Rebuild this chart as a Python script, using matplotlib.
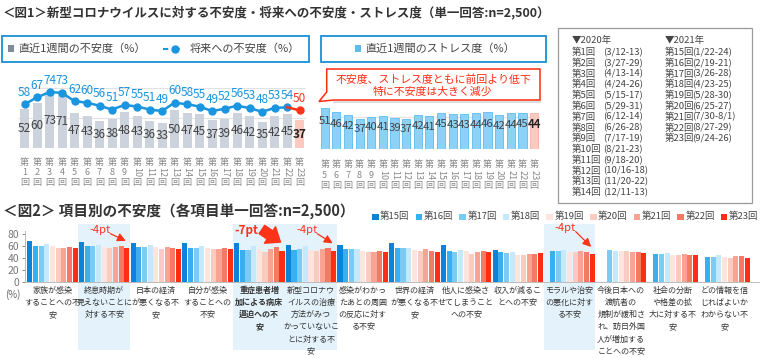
import numpy as np
import matplotlib.pyplot as plt
from matplotlib.patches import Rectangle, Polygon
from matplotlib.lines import Line2D
from matplotlib.transforms import blended_transform_factory

plt.rcParams['font.family'] = ['Noto Sans CJK JP', 'DejaVu Sans']

# ---- 図1 data ----
rounds = list(range(1, 24))
recent_anxiety = [52, 60, 73, 71, 47, 43, 36, 38, 48, 43, 36, 33, 50, 47, 45, 37, 39, 46, 42, 35, 42, 45, 37]
future_anxiety = [58, 67, 74, 73, 62, 60, 56, 51, 57, 55, 51, 49, 60, 58, 55, 49, 52, 56, 53, 48, 53, 54, 50]
stress_rounds = list(range(5, 24))
stress = [51, 46, 42, 37, 40, 41, 39, 37, 42, 41, 45, 43, 43, 44, 46, 42, 44, 45, 44]

periods_2020 = ['(3/12-13)', '(3/27-29)', '(4/13-14)', '(4/24-26)', '(5/15-17)', '(5/29-31)', '(6/12-14)',
                '(6/26-28)', '(7/17-19)', '(8/21-23)', '(9/18-20)', '(10/16-18)', '(11/20-22)', '(12/11-13)']
periods_2021 = ['(1/22-24)', '(2/19-21)', '(3/26-28)', '(4/23-25)', '(5/28-30)', '(6/25-27)', '(7/30-8/1)',
                '(8/27-29)', '(9/24-26)']

# ---- 図2 data ----
series = ['第15回', '第16回', '第17回', '第18回', '第19回', '第20回', '第21回', '第22回', '第23回']
items = ['家族が感染\nすることへの不\n安',
         '終息時期が\n見えないことに\n対する不安',
         '日本の経済\nが悪くなる不\n安',
         '自分が感染\nすることへの\n不安',
         '重症患者増\n加による病床\n逼迫への不\n安',
         '新型コロナウ\nイルスの治療\n方法がみつ\nかっていないこ\nとに対する不\n安',
         '感染がわかっ\nたあとの周囲\nの反応に対す\nる不安',
         '世界の経済\nが悪くなる不\n安',
         '他人に感染さ\nせてしまうこと\nへの不安',
         '収入が減るこ\nとへの不安',
         'モラルや治安\nの悪化に対す\nる不安',
         '今後日本への\n渡航者の\n規制が緩和さ\nれ、訪日外国\n人が増加する\nことへの不安',
         '社会の分断\nや格差の拡\n大に対する不\n安',
         'どの情報を信\nじればよいか\nわからない不\n安']
item_scores = [
    [69, 61, 61, 64, 61, 57, 57, 59, 57],
    [68, 60, 60, 63, 59, 57, 59, 61, 57],
    [66, 59, 59, 62, 59, 56, 59, 58, 56],
    [65, 58, 58, 60, 58, 55, 56, 58, 55],
    [65, 54, 54, 60, 56, 51, 56, 59, 52],
    [63, 54, 56, 60, 54, 53, 56, 57, 53],
    [62, 55, 55, 55, 53, 50, 51, 52, 50],
    [65, 58, 58, 58, 54, 52, 55, 52, 51],
    [62, 52, 51, 54, 52, 48, 51, 52, 50],
    [54, 51, 49, 50, 46, 46, 47, 47, 49],
    [None, 52, 52, 54, 50, 50, 52, 51, 47],
    [None, None, 54, 53, 52, 52, 51, 50, 49],
    [None, 47, 48, 49, 46, 45, 48, 46, 45],
    [None, 43, 43, 45, 43, 41, 44, 44, 41],
]
highlight = [1, 4, 5, 10]
drops = {1: '-4pt', 4: '-7pt', 5: '-4pt', 10: '-4pt'}

series_colors = ['#0b83d9', '#3aaff0', '#7ccbf4', '#c5e8fb', '#fde4dd', '#fccbbf', '#f9a492', '#f57a63', '#ff2d14']
blue = '#1a95e0'
red = '#ff3318'

W, H = 760, 358
fig = plt.figure(figsize=(W / 100, H / 100), dpi=100)


def fx(x):
    return x / W


def fy(y):
    return 1 - y / H


def ftext(x, y, s, **kw):
    fig.text(fx(x), fy(y), s, **kw)


def round_ticks(ax, nums, y0):
    tr = blended_transform_factory(ax.transData, fig.transFigure)
    for i, n in enumerate(nums):
        kw = dict(transform=tr, ha='center', va='center', fontsize=6.5, color='#888888')
        ax.text(i, fy(y0), '第', **kw)
        s = str(n)
        ax.text(i, fy(y0 + 10), s, rotation=-90 if len(s) > 1 else 0, **kw)
        ax.text(i, fy(y0 + 20.5), '回', **kw)


# titles
ftext(3, 13, '＜図1＞新型コロナウイルスに対する不安度・将来への不安度・ストレス度（単一回答:n=2,500）',
      fontsize=9, fontweight='bold', color='#333333', va='center')
ftext(3, 212, '＜図2＞ 項目別の不安度（各項目単一回答:n=2,500）',
      fontsize=10.5, fontweight='bold', color='#333333', va='center')

# ---- 図1 left ----
ax1 = fig.add_axes([fx(18.25), fy(148.3), 287.5 / W, (148.3 - 70) / H])
x1 = np.arange(len(rounds))
bar_cols = ['#ccd3dc'] * (len(rounds) - 1) + ['#fbc9c0']
ax1.bar(x1, recent_anxiety, width=0.72, color=bar_cols, zorder=2)
for i, v in enumerate(recent_anxiety):
    last = i == len(rounds) - 1
    ax1.text(i, v / 2, str(v), ha='center', va='center', fontsize=8.5,
             color='#222222' if last else '#444444', fontweight='bold' if last else 'normal', zorder=4)
ax1.plot(x1[:-1], future_anxiety[:-1], color=blue, lw=1.8, marker='o', ms=5, zorder=3)
ax1.plot(x1[-2:], future_anxiety[-2:], color=red, lw=1.8, zorder=3)
ax1.plot(x1[-1], future_anxiety[-1], color=red, marker='o', ms=5, zorder=3)
for i, v in enumerate(future_anxiety):
    ax1.annotate(str(v), (i, v), xytext=(0, 4), textcoords='offset points', ha='center', va='bottom',
                 fontsize=8.5, color=red if i == len(rounds) - 1 else blue)
ax1.set_xlim(-0.5, len(rounds) - 0.5)
ax1.set_ylim(0, 78.3 / 0.76)
ax1.set_yticks([0, 40, 80])
ax1.grid(axis='y', color='#e2e2e2', lw=0.8, zorder=0)
ax1.tick_params(left=False, bottom=False, labelleft=False, labelbottom=False)
for s in ax1.spines.values():
    s.set_visible(False)
ax1.set_facecolor('none')
round_ticks(ax1, rounds, 162)

# legend box 1
fig.patches.append(Rectangle((fx(2), fy(61.5)), 307 / W, 26 / H, transform=fig.transFigure,
                             facecolor='white', edgecolor='#1a8fd8', lw=1.3))
fig.patches.append(Rectangle((fx(8), fy(51.5)), 6 / W, 6 / H, transform=fig.transFigure,
                             facecolor='#7f8b9b', edgecolor='none'))
ftext(18, 48.5, '直近1週間の不安度（%）', fontsize=8, color='#444444', va='center')
fig.add_artist(Line2D([fx(163), fx(186)], [fy(48.5), fy(48.5)], color=blue, lw=1.5, ls=(0, (2.5, 3))))
fig.add_artist(Line2D([fx(174.5)], [fy(48.5)], color=blue, marker='o', ms=5))
ftext(190, 48.5, '将来への不安度（%）', fontsize=8, color='#444444', va='center')

# ---- 図1 right (stress) ----
ax2 = fig.add_axes([fx(318.9), fy(149.3), 221 / W, (149.3 - 100) / H])
x2 = np.arange(len(stress_rounds))
st_cols = ['#8dd2f6'] * (len(stress_rounds) - 1) + ['#fbc9c0']
st_edges = ['#5cbcef'] * (len(stress_rounds) - 1) + ['#f6b0a3']
ax2.bar(x2, stress, width=0.7, color=st_cols, edgecolor=st_edges, lw=0.6, zorder=2)
for i, v in enumerate(stress):
    last = i == len(stress_rounds) - 1
    ax2.text(i, v * 0.68, str(v), ha='center', va='center', fontsize=8.2,
             color='#222222' if last else '#444444', fontweight='bold' if last else 'normal', zorder=4)
ax2.set_xlim(-0.5, len(stress_rounds) - 0.5)
ax2.set_ylim(0, 49.3 / 0.815)
ax2.set_yticks([0, 40])
ax2.grid(axis='y', color='#e2e2e2', lw=0.8, zorder=0)
ax2.tick_params(left=False, bottom=False, labelleft=False, labelbottom=False)
for s in ax2.spines.values():
    s.set_visible(False)
ax2.set_facecolor('none')
round_ticks(ax2, stress_rounds, 165)

fig.patches.append(Rectangle((fx(320.5), fy(61.5)), 225 / W, 26 / H, transform=fig.transFigure,
                             facecolor='white', edgecolor='#1a8fd8', lw=1.3))
fig.patches.append(Rectangle((fx(355), fy(51.5)), 6 / W, 6 / H, transform=fig.transFigure,
                             facecolor='#5cbcef', edgecolor='none'))
ftext(365, 48.5, '直近1週間のストレス度（%）', fontsize=8, color='#444444', va='center')

# callout
pts = [(326.7, 69), (540, 69), (540, 100), (334, 100), (319, 101.5), (326.7, 92)]
fig.patches.append(Polygon([(fx(a), fy(b)) for a, b in pts], closed=True, transform=fig.transFigure,
                           facecolor='white', edgecolor='#ff2a10', lw=1.1, zorder=5))
fig.add_artist(Line2D([fx(334), fx(540)], [fy(101.5), fy(101.5)], color='#dddddd', lw=1.5, zorder=4))
ftext(433, 79.5, '不安度、ストレス度ともに前回より低下', fontsize=7.8, color='#ff2a10', ha='center', va='center', zorder=6)
ftext(433, 92, '特に不安度は大きく減少', fontsize=7.8, color='#ff2a10', ha='center', va='center', zorder=6)

# period table
fig.patches.append(Rectangle((fx(558), fy(203)), 194 / W, 175 / H, transform=fig.transFigure,
                             facecolor='white', edgecolor='#9a9a9a', lw=0.9))
tkw = dict(fontsize=6.8, color='#444444', va='center')
ftext(572, 40, '▼2020年', **tkw)
for k, p in enumerate(periods_2020):
    y = 52.5 + k * 10.77
    ftext(572, y, f'第{k + 1}回', **tkw)
    ftext(603, y, p, **tkw)
ftext(665, 40, '▼2021年', **tkw)
for k, p in enumerate(periods_2021):
    y = 52.5 + k * 10.77
    ftext(665, y, f'第{k + 15}回', **tkw)
    ftext(692, y, p, **tkw)

# ---- 図2 ----
ax3 = fig.add_axes([fx(25), fy(282.3), 735 / W, 51 / H])
w = 5.675 / 51.7
for j, name in enumerate(series):
    xs = [i + (j - 4) * w for i in range(len(items)) if item_scores[i][j] is not None]
    hs = [item_scores[i][j] for i in range(len(items)) if item_scores[i][j] is not None]
    ax3.bar(xs, hs, width=w * 0.9, color=series_colors[j], zorder=2)
ax3.set_xlim(-0.532, 13.685)
ax3.set_ylim(0, 85)
ax3.set_yticks([0, 20, 40, 60, 80])
ax3.tick_params(axis='y', labelsize=7.5, colors='#777777', length=2, width=0.6, pad=2)
ax3.tick_params(axis='x', bottom=False, labelbottom=False)
for s in ['top', 'right']:
    ax3.spines[s].set_visible(False)
for s in ['left', 'bottom']:
    ax3.spines[s].set_color('#bbbbbb')
    ax3.spines[s].set_linewidth(0.7)
ax3.set_facecolor('none')
ftext(13, 295, '(%)', fontsize=7, color='#666666', ha='center', va='center')

tr3 = blended_transform_factory(ax3.transData, fig.transFigure)
for i in highlight:
    fig.patches.append(Rectangle((i - 0.5, fy(350)), 1, (350 - 224) / H, transform=tr3,
                                 facecolor='#e3f2fb', edgecolor='none', zorder=-1))
for i, lab in enumerate(items):
    ax3.text(i, fy(286), lab, transform=tr3, ha='center', va='top', fontsize=5.8, linespacing=1.45,
             color='#333333', fontweight='bold' if i == 4 else 'normal')

for i, t in drops.items():
    v23 = item_scores[i][-1]
    bx = i + 4 * w
    if t == '-7pt':
        ax3.text(i - 0.25, 87, t, ha='center', va='center', fontsize=8.5, color=red, fontweight='bold')
        ax3.annotate('', xy=(bx - 0.03, v23 + 15), xytext=(i + 0.05, 88), annotation_clip=False,
                     arrowprops=dict(arrowstyle='simple,head_length=0.7,head_width=1.1,tail_width=0.55',
                                     color=red, mutation_scale=13, shrinkA=0, shrinkB=0))
    else:
        ty = 90.5 if i == 10 else 87
        ax3.text(i - 0.08, ty, t, ha='center', va='center', fontsize=8, color=red)
        ax3.annotate('', xy=(bx - 0.02, v23 + 12), xytext=(i + 0.12, ty - 6), annotation_clip=False,
                     arrowprops=dict(arrowstyle='-|>,head_length=0.5,head_width=0.25', color=red, lw=0.9,
                                     shrinkA=0, shrinkB=0))

# legend 図2
for j, name in enumerate(series):
    x = 375 + j * 43.6
    fig.patches.append(Rectangle((fx(x - 3), fy(220)), 6.5 / W, 6.5 / H, transform=fig.transFigure,
                                 facecolor=series_colors[j], edgecolor='none'))
    ftext(x + 5, 216.5, name, fontsize=6.8, color='#444444', va='center')

fig.savefig('out.png', dpi=100)
